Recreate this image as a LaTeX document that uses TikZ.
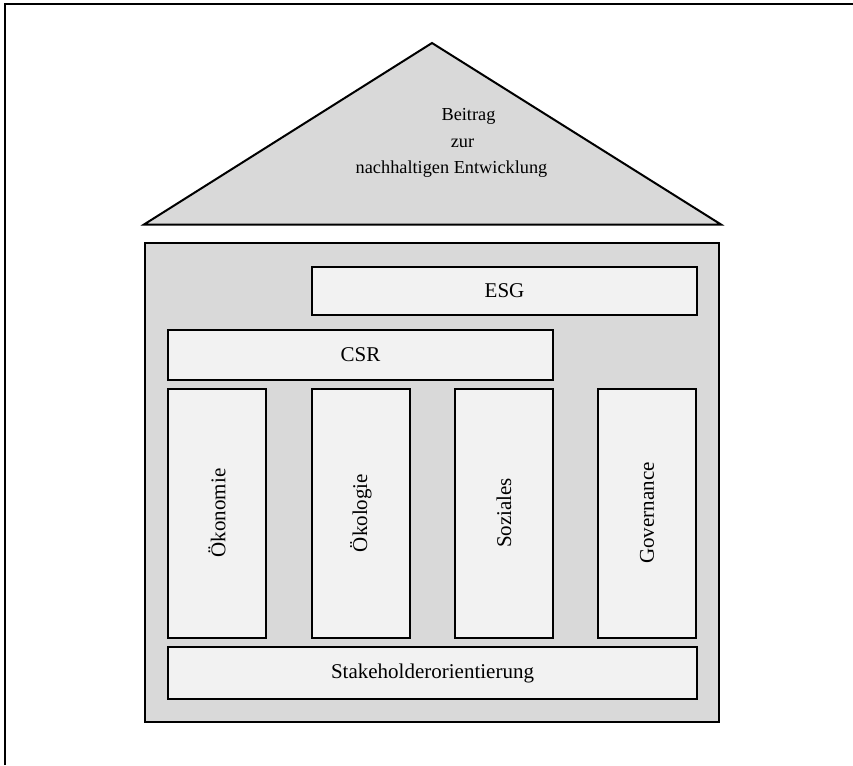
\documentclass[tikz,border=0pt]{standalone}
\usepackage{fontspec}
\setmainfont{Liberation Serif}
\definecolor{housegray}{HTML}{D9D9D9}
\definecolor{panelgray}{HTML}{F2F2F2}
\begin{document}
\begin{tikzpicture}[x=1pt,y=-1pt,
  frameline/.style={line width=2pt, black},
  housebox/.style={draw=black, line width=2pt, fill=housegray},
  panel/.style={draw=black, line width=2pt, fill=panelgray, inner sep=0pt,
    font=\fontsize{21}{25}\selectfont},
  pillar/.style={panel, minimum width=98pt, minimum height=249pt},
  pillartext/.style={rotate=90, font=\fontsize{21}{25}\selectfont}]
\useasboundingbox (0,0) rectangle (853,765);
\fill[white] (0,0) rectangle (853,765);
% frame along the left and top edges
\coordinate (fbl) at (4.5,765);
\coordinate (ftl) at (4.5,4.5);
\coordinate (ftr) at (853,4.5);
\draw[frameline] (fbl) -- (ftl) -- (ftr);
% roof
\coordinate (apex) at (432,43);
\coordinate (eaveL) at (144,224.5);
\coordinate (eaveR) at (721,224.5);
\draw[housebox, line join=miter] (eaveL) -- (apex) -- (eaveR) -- cycle;
\node[align=center, font=\fontsize{18.3}{26.5}\selectfont] (roof) at (451.5,143)
  {\hspace*{34pt}Beitrag\\\hspace*{22pt}zur\\nachhaltigen Entwicklung};
% building body
\node[housebox, minimum width=574pt, minimum height=479pt, inner sep=0pt] (house) at (432,482.5) {};
% bars
\node[panel, minimum width=385pt, minimum height=48pt] (esg) at (504.5,291) {ESG};
\node[panel, minimum width=385pt, minimum height=50pt] (csr) at (360.5,355) {CSR};
% pillars
\node[pillar] (oek) at (217,513) {};
\node[pillar] (oeko) at (361,513) {};
\node[pillar] (soz) at (504,513) {};
\node[pillar] (gov) at (647,513) {};
\node[pillartext] at (oek) {Ökonomie};
\node[pillartext] at (oeko) {Ökologie};
\node[pillartext] at (soz) {Soziales};
\node[pillartext] at (gov) {Governance};
% foundation
\node[panel, minimum width=529pt, minimum height=52pt] (stake) at (432.5,673) {Stakeholderorientierung};
\end{tikzpicture}
\end{document}
